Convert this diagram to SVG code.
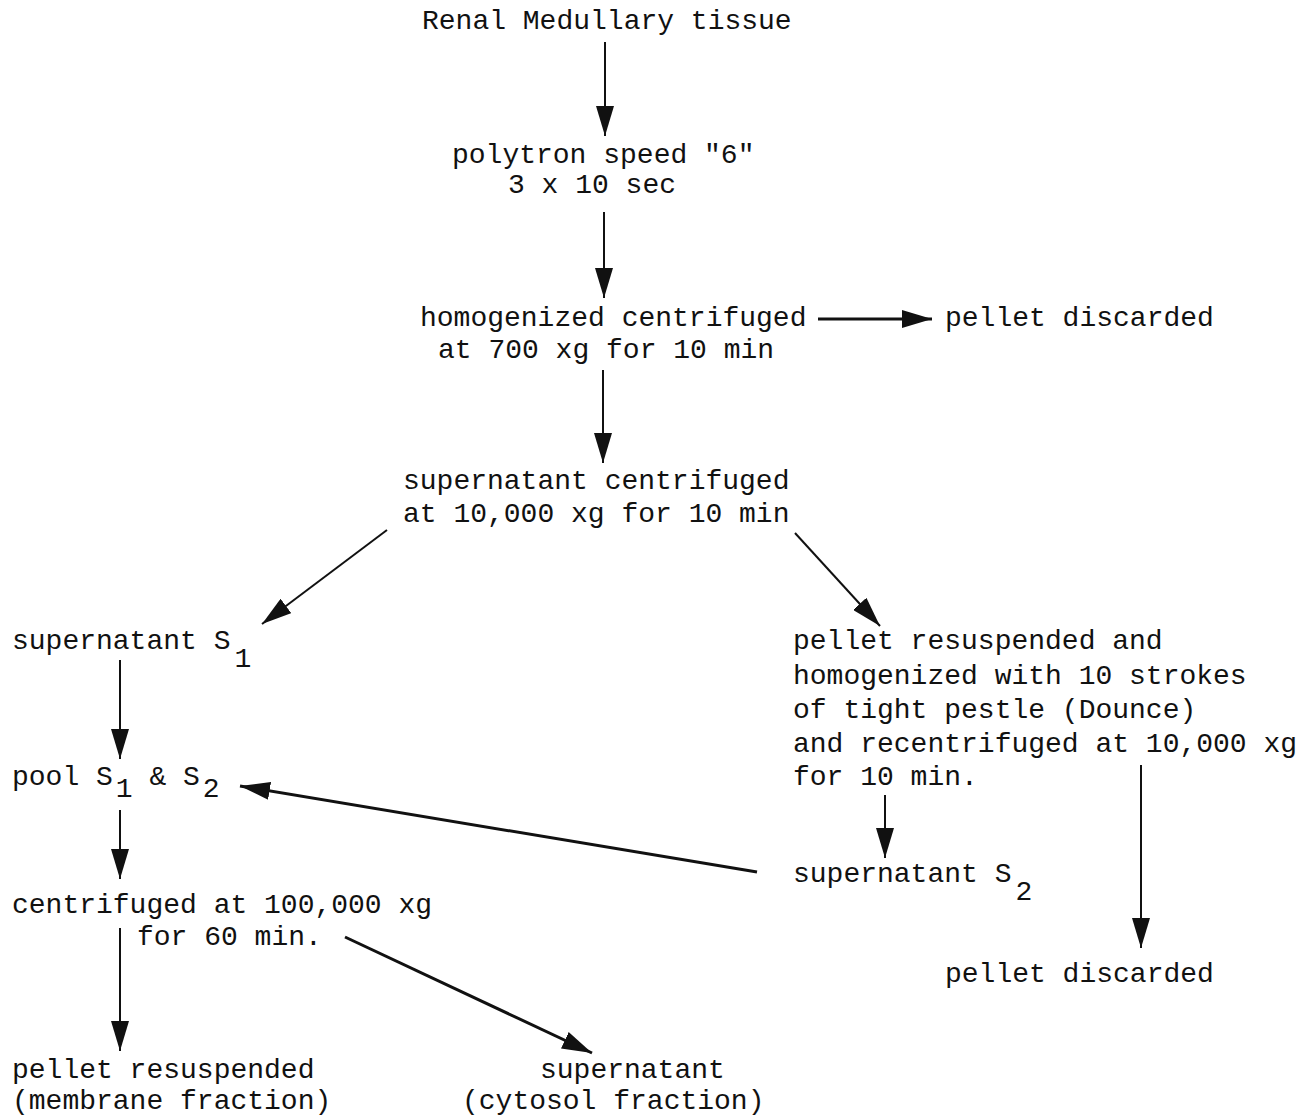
<svg xmlns="http://www.w3.org/2000/svg" width="1315" height="1120" viewBox="0 0 1315 1120">
<style>
text{font-family:"Liberation Mono","Courier New",monospace;font-size:28px;fill:#111;}
.c line{stroke:#111;stroke-width:2;fill:none;}
.c line.thick{stroke-width:3;}
</style>
<defs>
<marker id="ah" markerUnits="userSpaceOnUse" markerWidth="32" markerHeight="18" refX="30" refY="9" orient="auto">
<path d="M0,0 L30,9 L0,18 Z" fill="#111"/>
</marker>
</defs>
<rect width="1315" height="1120" fill="#fff"/>
<g id="n1"><text x="422" y="29">Renal Medullary tissue</text></g>
<g id="n2"><text x="452" y="163">polytron speed "6"</text><text x="508" y="193">3 x 10 sec</text></g>
<g id="n3"><text x="420" y="326">homogenized centrifuged</text><text x="438" y="358">at 700 xg for 10 min</text></g>
<g id="n4"><text x="945" y="326">pellet discarded</text></g>
<g id="n5"><text x="403" y="489">supernatant centrifuged</text><text x="403" y="522">at 10,000 xg for 10 min</text></g>
<g id="n6"><text x="12" y="649">supernatant S<tspan dx="4" dy="18">1</tspan></text></g>
<g id="n7"><text x="793" y="649">pellet resuspended and</text><text x="793" y="684">homogenized with 10 strokes</text><text x="793" y="718">of tight pestle (Dounce)</text><text x="793" y="752">and recentrifuged at 10,000 xg</text><text x="793" y="785">for 10 min.</text></g>
<g id="n8"><text x="12" y="785">pool S<tspan dx="3" dy="12">1</tspan><tspan dy="-12"> &amp; S</tspan><tspan dx="3" dy="12">2</tspan></text></g>
<g id="n9"><text x="793" y="882">supernatant S<tspan dx="4" dy="18">2</tspan></text></g>
<g id="n10"><text x="12" y="913">centrifuged at 100,000 xg</text><text x="137" y="945">for 60 min.</text></g>
<g id="n11"><text x="945" y="982">pellet discarded</text></g>
<g id="n12"><text x="12" y="1078">pellet resuspended</text><text x="12" y="1109">(membrane fraction)</text></g>
<g id="n13"><text x="540" y="1078">supernatant</text><text x="462" y="1109">(cytosol fraction)</text></g>
<g id="connectors" class="c">
<line x1="605" y1="42" x2="605" y2="136" marker-end="url(#ah)"/>
<line x1="604" y1="212" x2="604" y2="298" marker-end="url(#ah)"/>
<line class="thick" x1="818" y1="319" x2="932" y2="319" marker-end="url(#ah)"/>
<line x1="603" y1="370" x2="603" y2="463" marker-end="url(#ah)"/>
<line x1="387" y1="530" x2="262" y2="624" marker-end="url(#ah)"/>
<line x1="795" y1="533" x2="880" y2="626" marker-end="url(#ah)"/>
<line x1="120" y1="660" x2="120" y2="759" marker-end="url(#ah)"/>
<line class="thick" x1="757" y1="872" x2="240" y2="786" marker-end="url(#ah)"/>
<line x1="120" y1="810" x2="120" y2="879" marker-end="url(#ah)"/>
<line x1="885" y1="795" x2="885" y2="858" marker-end="url(#ah)"/>
<line x1="1141" y1="765" x2="1141" y2="948" marker-end="url(#ah)"/>
<line x1="120" y1="928" x2="120" y2="1051" marker-end="url(#ah)"/>
<line class="thick" x1="345" y1="937" x2="592" y2="1053" marker-end="url(#ah)"/>
</g>
</svg>
